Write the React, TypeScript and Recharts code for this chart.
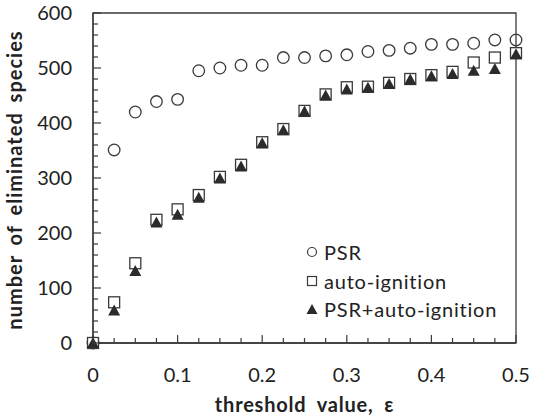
import { ScatterChart, Scatter, XAxis, YAxis, ReferenceArea } from "recharts";

const THRESHOLDS = [
  0, 0.025, 0.05, 0.075, 0.1, 0.125, 0.15, 0.175, 0.2, 0.225, 0.25, 0.275, 0.3, 0.325, 0.35,
  0.375, 0.4, 0.425, 0.45, 0.475, 0.5,
];
const PSR = [0, 351, 420, 439, 443, 495, 500, 505, 505, 519, 519, 522, 524, 530, 532, 536, 543, 543, 545, 551, 551];
const AUTO_IGNITION = [0, 74, 145, 224, 243, 269, 302, 324, 365, 389, 422, 452, 465, 466, 473, 480, 487, 493, 510, 519, 527];
const COMBINED = [0, 59, 131, 219, 233, 264, 299, 321, 363, 387, 421, 450, 461, 464, 471, 479, 485, 489, 495, 498, 525];

const X_TICKS = THRESHOLDS;
const Y_TICKS = [0, 20, 40, 60, 80, 100, 120, 140, 160, 180, 200, 220, 240, 260, 280, 300, 320, 340, 360, 380, 400, 420, 440, 460, 480, 500, 520, 540, 560, 580, 600];

const LEGEND_ITEMS = [
  { key: "psr", label: "PSR" },
  { key: "auto", label: "auto-ignition" },
  { key: "both", label: "PSR+auto-ignition" },
];

const INK = "#3a3a3a";
const FONT = "Lato, 'Open Sans', sans-serif";

const toPoints = (ys: number[]) => THRESHOLDS.map((x, i) => ({ x, y: ys[i] }));

const isMajor = (v: number, step: number) => Math.abs(v / step - Math.round(v / step)) < 1e-6;

const XTick = ({ x, y, payload }: any) => {
  const v = payload.value as number;
  const major = isMajor(v, 0.1);
  return (
    <g>
      <line x1={x} x2={x} y1={y} y2={y - (major ? 8 : 5)} stroke={INK} strokeWidth={1.2} />
      {major && (
        <text x={x} y={y + 39} textAnchor="middle" fontSize={20} fill="#222" fontFamily={FONT}>
          {String(Math.round(v * 10) / 10)}
        </text>
      )}
    </g>
  );
};

const YTick = ({ x, y, payload }: any) => {
  const v = payload.value as number;
  const major = isMajor(v, 100);
  return (
    <g>
      <line x1={x} x2={x + (major ? 8 : 5)} y1={y} y2={y} stroke={INK} strokeWidth={1.2} />
      {major && (
        <text x={x - 21} y={y + 7} textAnchor="end" fontSize={20} fill="#222" fontFamily={FONT}>
          {v}
        </text>
      )}
    </g>
  );
};

const CircleMark = ({ cx, cy }: any) => (
  <circle cx={cx} cy={cy} r={5.8} fill="none" stroke={INK} strokeWidth={1.3} />
);

const SquareMark = ({ cx, cy }: any) => (
  <rect x={cx - 5.5} y={cy - 5.5} width={11} height={11} fill="#fff" stroke={INK} strokeWidth={1.3} />
);

const TriangleMark = ({ cx, cy }: any) => (
  <path d={`M${cx},${cy - 6} L${cx + 6},${cy + 5} L${cx - 6},${cy + 5} Z`} fill="#2b2b2b" />
);

const LegendSymbol = ({ kind }: { kind: string }) => (
  <svg width={14} height={14} style={{ marginRight: 5 }}>
    {kind === "psr" && <circle cx={7} cy={7} r={4.5} fill="none" stroke={INK} strokeWidth={1.2} />}
    {kind === "auto" && <rect x={2.5} y={2.5} width={9} height={9} fill="none" stroke={INK} strokeWidth={1.2} />}
    {kind === "both" && <path d="M7,2 L12.5,12 L1.5,12 Z" fill="#2b2b2b" />}
  </svg>
);

const YTitle = ({ viewBox }: any) => {
  const cx = viewBox.x + 14;
  const cy = viewBox.y + viewBox.height / 2 + 2;
  return (
    <text x={cx} y={cy} transform={`rotate(-90 ${cx} ${cy})`} textAnchor="middle" dominantBaseline="central"
      fontSize={20} fontWeight="bold" letterSpacing={1} wordSpacing={4} fill="#222" fontFamily={FONT}>
      number of eliminated species
    </text>
  );
};

const XTitle = ({ viewBox }: any) => {
  const cx = viewBox.x + viewBox.width / 2;
  const cy = viewBox.y + 61;
  return (
    <text x={cx} y={cy} textAnchor="middle" dominantBaseline="central"
      fontSize={20} fontWeight="bold" letterSpacing={0.8} wordSpacing={5} fill="#222" fontFamily={FONT}>
      threshold value, ε
    </text>
  );
};

export default function App() {
  return (
    <div style={{ position: "absolute", left: 0, top: 0, width: 533, height: 419, background: "#fff" }}>
      <ScatterChart width={533} height={419} margin={{ top: 13, right: 17, bottom: 0, left: 0 }}>
        <XAxis
          type="number"
          dataKey="x"
          domain={[0, 0.5]}
          ticks={X_TICKS}
          interval={0}
          tickSize={0}
          tickMargin={0}
          tickLine={false}
          tick={<XTick />}
          height={76}
          stroke={INK}
          strokeWidth={1.3}
          label={<XTitle />}
        />
        <YAxis
          type="number"
          dataKey="y"
          domain={[0, 600]}
          ticks={Y_TICKS}
          interval={0}
          tickSize={0}
          tickMargin={0}
          tickLine={false}
          tick={<YTick />}
          width={93}
          stroke={INK}
          strokeWidth={1.3}
          label={<YTitle />}
        />
        <ReferenceArea x1={0} x2={0.5} y1={0} y2={600} fill="none" stroke={INK} strokeWidth={1.3} />
        <Scatter name="PSR" data={toPoints(PSR)} shape={<CircleMark />} isAnimationActive={false} />
        <Scatter name="auto-ignition" data={toPoints(AUTO_IGNITION)} shape={<SquareMark />} isAnimationActive={false} />
        <Scatter name="PSR+auto-ignition" data={toPoints(COMBINED)} shape={<TriangleMark />} isAnimationActive={false} />
      </ScatterChart>
      <div style={{ position: "absolute", left: 305, top: 238, fontFamily: FONT, fontSize: 20, letterSpacing: 0.8, color: "#222" }}>
        {LEGEND_ITEMS.map((item) => (
          <div key={item.key} style={{ display: "flex", alignItems: "center", height: 28.5 }}>
            <LegendSymbol kind={item.key} />
            <span>{item.label}</span>
          </div>
        ))}
      </div>
    </div>
  );
}
